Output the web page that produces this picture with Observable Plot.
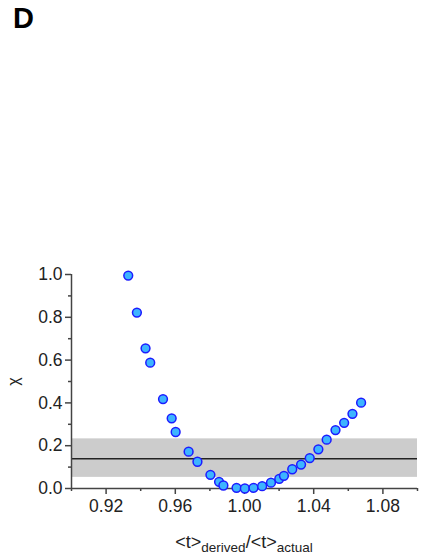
<!DOCTYPE html>
<html>
<head>
<meta charset="utf-8">
<script src="https://cdn.jsdelivr.net/npm/d3@7"></script>
<script src="https://cdn.jsdelivr.net/npm/@observablehq/plot@0.6"></script>
<style>
  html, body { margin: 0; padding: 0; background: #fff; }
  #wrap { position: relative; width: 426px; height: 560px; font-family: "Liberation Sans", Arial, sans-serif; }
  #panel { position: absolute; left: 13px; top: 2px; font-size: 29px; font-weight: bold; color: #000; font-family: "Liberation Sans", Arial, sans-serif; }
</style>
</head>
<body>
<div id="wrap"><div id="panel">D</div></div>
<script>
// Data
const ratio = [0.9328, 0.9378, 0.9428, 0.9455, 0.9529, 0.9579, 0.9602, 0.9677, 0.9728, 0.9803,
               0.9853, 0.9878, 0.9954, 1.0002, 1.0052, 1.0102, 1.0153, 1.0201, 1.0228, 1.0276,
               1.0327, 1.0377, 1.0427, 1.0475, 1.0526, 1.0576, 1.0624, 1.0674];
const chi   = [0.995, 0.822, 0.655, 0.588, 0.418, 0.328, 0.264, 0.172, 0.125, 0.064,
               0.031, 0.014, 0.003, 0.000, 0.003, 0.011, 0.027, 0.045, 0.059, 0.090,
               0.112, 0.142, 0.183, 0.228, 0.273, 0.307, 0.349, 0.401];
const bandLow = 0.052;
const bandHigh = 0.232;
const meanChi = 0.139;
const xMajorTicks = [0.92, 0.96, 1.00, 1.04, 1.08];
const xMinorTicks = [0.90, 0.94, 0.98, 1.02, 1.06, 1.10];
const yMajorTicks = [0.0, 0.2, 0.4, 0.6, 0.8, 1.0];
const yMinorTicks = [0.1, 0.3, 0.5, 0.7, 0.9];
const xDomain = [0.90, 1.10];
const yDomain = [0, 1];

const points = ratio.map((r, i) => ({ratio: r, chi: chi[i]}));
const axisColor = "#444";
const FONT = "Liberation Sans, Arial, sans-serif";
const TICKFONT = 17.5;

const plot = Plot.plot({
  width: 426,
  height: 560,
  marginLeft: 71,
  marginRight: 9,
  marginTop: 274,
  marginBottom: 72,
  style: {fontFamily: FONT, fontSize: TICKFONT + "px", color: "#222", background: "#fff"},
  x: {domain: xDomain},
  y: {domain: yDomain},
  marks: [
    Plot.rect([{x1: xDomain[0], x2: xDomain[1], y1: bandLow, y2: bandHigh}],
      {x1: "x1", x2: "x2", y1: "y1", y2: "y2", fill: "#cccccc", inset: 0}),
    Plot.ruleY([meanChi], {x1: xDomain[0], x2: xDomain[1], stroke: "#222", strokeWidth: 1.3}),
    Plot.axisX({ticks: xMinorTicks, tickSize: 3, tickFormat: () => "", stroke: axisColor, strokeWidth: 1.5, label: null}),
    Plot.axisX({ticks: xMajorTicks, tickSize: 6, tickPadding: 5, tickFormat: d3.format(".2f"), stroke: axisColor, strokeWidth: 1.5,
      label: null, fontSize: TICKFONT, fontFamily: FONT, fill: "#222"}),
    Plot.axisY({ticks: yMinorTicks, tickSize: 3, tickFormat: () => "", stroke: axisColor, strokeWidth: 1.5, label: null}),
    Plot.axisY({ticks: yMajorTicks, tickSize: 6, tickPadding: 3, tickFormat: d3.format(".1f"), stroke: axisColor, strokeWidth: 1.5,
      label: "χ", labelArrow: "none", labelAnchor: "center", labelOffset: 64, fontSize: 16, fontFamily: FONT, fill: "#222"}),
    Plot.ruleX([xDomain[0]], {y1: yDomain[0], y2: yDomain[1], stroke: axisColor, strokeWidth: 1.5}),
    Plot.ruleY([yDomain[0]], {x1: xDomain[0], x2: xDomain[1], stroke: axisColor, strokeWidth: 1.5}),
    Plot.dot(points, {x: "ratio", y: "chi", r: 4.4, fill: "#3db4ff", stroke: "#1c1cff", strokeWidth: 1.5})
  ]
});
document.getElementById("wrap").appendChild(plot);

// y tick labels keep the larger size
d3.select(plot).selectAll("[aria-label='y-axis tick label'] text").attr("font-size", TICKFONT);

// x-axis label with subscripts
const xs = plot.scale("x");
const cx = (xs.apply(xDomain[0]) + xs.apply(xDomain[1])) / 2;
const svg = d3.select(plot);
const lbl = svg.append("text")
  .attr("x", cx)
  .attr("y", 548)
  .attr("text-anchor", "middle")
  .attr("fill", "#222")
  .attr("font-family", FONT)
  .attr("font-size", 18);
lbl.append("tspan").text("<t>");
lbl.append("tspan").attr("dy", 4).attr("font-size", 13.5).text("derived");
lbl.append("tspan").attr("dy", -4).text("/<t>");
lbl.append("tspan").attr("dy", 4).attr("font-size", 13.5).text("actual");
</script>
</body>
</html>
